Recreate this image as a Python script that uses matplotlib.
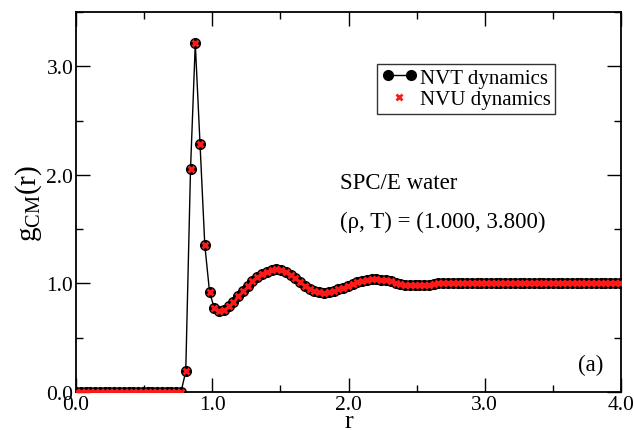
import numpy as np
import matplotlib
matplotlib.use("Agg")
import matplotlib.pyplot as plt
from matplotlib.ticker import MultipleLocator, FormatStrFormatter
from matplotlib.legend_handler import HandlerLine2D

plt.rcParams['font.family'] = ['Liberation Serif', 'DejaVu Serif']
plt.rcParams['mathtext.fontset'] = 'custom'
plt.rcParams['mathtext.rm'] = 'Liberation Serif'
plt.rcParams['mathtext.it'] = 'Liberation Serif:italic'

dr = 0.035
g_values = [
    0, 0, 0, 0, 0, 0, 0, 0, 0, 0,
    0, 0, 0, 0, 0, 0, 0, 0, 0, 0,
    0, 0, 0, 0.19, 2.05, 3.21, 2.28, 1.35, 0.92, 0.77,
    0.75, 0.76, 0.79, 0.83, 0.88, 0.93, 0.98, 1.02, 1.06, 1.09,
    1.11, 1.125, 1.13, 1.125, 1.11, 1.08, 1.05, 1.01, 0.98, 0.95,
    0.93, 0.92, 0.915, 0.92, 0.93, 0.945, 0.96, 0.98, 0.995, 1.01,
    1.025, 1.035, 1.04, 1.04, 1.035, 1.03, 1.02, 1.005, 0.995, 0.99,
    0.985, 0.985, 0.985, 0.99, 0.99, 0.995, 1.0, 1.0, 1.005, 1.005,
    1.005, 1.005, 1.005, 1.0, 1.0, 1.0, 1.0, 1.0, 1.0, 1.0,
    1.0, 1.0, 1.0, 1.0, 1.0, 1.0, 1.0, 1.0, 1.0, 1.0,
    1.0, 1.0, 1.0, 1.0, 1.0, 1.0, 1.0, 1.0, 1.0, 1.0,
    1.0, 1.0, 1.0, 1.0, 1.0,
]
r_values = np.arange(len(g_values)) * dr
g_nvt = np.array(g_values)
g_nvu = np.array(g_values)

x_ticks = [0.0, 1.0, 2.0, 3.0, 4.0]
y_ticks = [0.0, 1.0, 2.0, 3.0]

fig = plt.figure(figsize=(6.34, 4.31), dpi=100)
ax = fig.add_axes([0.120, 0.088, 0.8595, 0.882])

l1, = ax.plot(r_values, g_nvt, '-o', color='black', lw=1.0, markersize=7.0,
              markerfacecolor='black', markeredgecolor='black', label='NVT dynamics', zorder=2)
l2, = ax.plot(r_values, g_nvu, 'x', color='#ff1a1a', markersize=4.8, markeredgewidth=2.0,
              linestyle='none', label='NVU dynamics', zorder=3)

ax.set_xlim(0, 4.0)
ax.set_ylim(0, 3.5)
ax.set_xticks(x_ticks)
ax.set_yticks(y_ticks)
ax.xaxis.set_minor_locator(MultipleLocator(0.5))
ax.yaxis.set_minor_locator(MultipleLocator(0.5))
ax.xaxis.set_major_formatter(FormatStrFormatter('%.1f'))
ax.yaxis.set_major_formatter(FormatStrFormatter('%.1f'))
ax.tick_params(which='both', direction='in', top=True, right=True, labelsize=15.5, width=1.0)
ax.tick_params(which='major', length=10, pad=2)
ax.tick_params(which='minor', length=5)
for s in ax.spines.values():
    s.set_linewidth(1.3)

ax.set_xlabel('r', fontsize=19, labelpad=-3)
ax.set_ylabel(r'$\mathregular{g_{CM}(r)}$', fontsize=21, labelpad=2)

leg = ax.legend(handles=[l1, l2], loc='upper left', bbox_to_anchor=(0.553, 0.863), fontsize=15,
                frameon=True, fancybox=False, edgecolor='black', handlelength=1.7,
                handletextpad=0.15, borderpad=0.2, labelspacing=0.1, borderaxespad=0,
                handler_map={l1: HandlerLine2D(numpoints=2), l2: HandlerLine2D(numpoints=1)})
leg.get_frame().set_linewidth(1.0)

ax.text(0.485, 0.552, 'SPC/E water', transform=ax.transAxes, fontsize=16.5, va='center')
ax.text(0.485, 0.45, '(ρ, T) = (1.000, 3.800)', transform=ax.transAxes, fontsize=16.5, va='center')
ax.text(0.967, 0.073, '(a)', transform=ax.transAxes, fontsize=16.5, va='center', ha='right')

fig.savefig('out.png', dpi=100)
